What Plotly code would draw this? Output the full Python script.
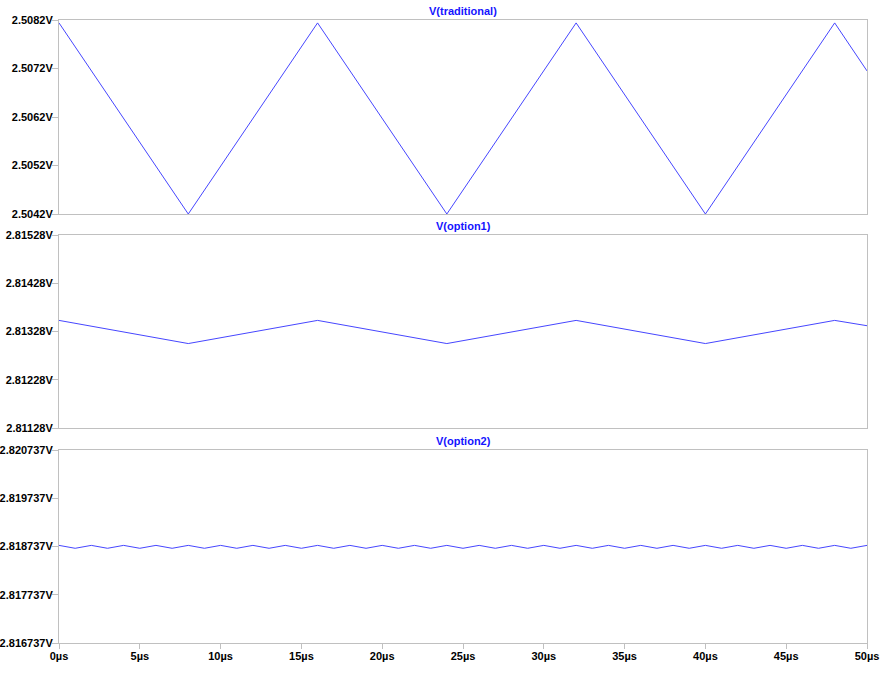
import plotly.graph_objects as go

# ---- data ----
t_tri = [0, 8, 16, 24, 32, 40, 48, 50]                      # µs
v_traditional = [2.50814, 2.50420, 2.50814, 2.50420, 2.50814, 2.50420, 2.50814, 2.50715]
v_option1 = [2.81351, 2.81303, 2.81351, 2.81303, 2.81351, 2.81303, 2.81351, 2.81340]

t_rip = [0, 1, 2, 3, 4, 5, 6, 7, 8, 9, 10, 11, 12, 13, 14, 15, 16, 17, 18, 19, 20,
         21, 22, 23, 24, 25, 26, 27, 28, 29, 30, 31, 32, 33, 34, 35, 36, 37, 38, 39, 40,
         41, 42, 43, 44, 45, 46, 47, 48, 49, 50]
v_option2 = [2.81876, 2.81870, 2.81876, 2.81870, 2.81876, 2.81870, 2.81876, 2.81870,
             2.81876, 2.81870, 2.81876, 2.81870, 2.81876, 2.81870, 2.81876, 2.81870,
             2.81876, 2.81870, 2.81876, 2.81870, 2.81876, 2.81870, 2.81876, 2.81870,
             2.81876, 2.81870, 2.81876, 2.81870, 2.81876, 2.81870, 2.81876, 2.81870,
             2.81876, 2.81870, 2.81876, 2.81870, 2.81876, 2.81870, 2.81876, 2.81870,
             2.81876, 2.81870, 2.81876, 2.81870, 2.81876, 2.81870, 2.81876, 2.81870,
             2.81876, 2.81870, 2.81876]

titles = ["V(traditional)", "V(option1)", "V(option2)"]

y1_ticks = [2.5042, 2.5052, 2.5062, 2.5072, 2.5082]
y1_text = ["2.5042V", "2.5052V", "2.5062V", "2.5072V", "2.5082V"]
y2_ticks = [2.81128, 2.81228, 2.81328, 2.81428, 2.81528]
y2_text = ["2.81128V", "2.81228V", "2.81328V", "2.81428V", "2.81528V"]
y3_ticks = [2.816737, 2.817737, 2.818737, 2.819737, 2.820737]
y3_text = ["2.816737V", "2.817737V", "2.818737V", "2.819737V", "2.820737V"]

x_ticks = [0, 5, 10, 15, 20, 25, 30, 35, 40, 45, 50]
x_text = ["0µs", "5µs", "10µs", "15µs", "20µs", "25µs", "30µs", "35µs", "40µs", "45µs", "50µs"]

# ---- figure ----
W, H = 880, 680
FONT = "Liberation Sans, Arial, sans-serif"
LINE = "rgb(70,70,255)"
BORDER = "#c0c0c0"

xdom = [59 / W, 867 / W]
ydoms = [[1 - 214 / H, 1 - 20 / H], [1 - 428 / H, 1 - 235 / H], [1 - 643 / H, 1 - 450 / H]]

fig = go.Figure()
fig.add_trace(go.Scatter(x=t_tri, y=v_traditional, mode="lines", line=dict(color=LINE, width=1),
                         xaxis="x", yaxis="y"))
fig.add_trace(go.Scatter(x=t_tri, y=v_option1, mode="lines", line=dict(color=LINE, width=1),
                         xaxis="x2", yaxis="y2"))
fig.add_trace(go.Scatter(x=t_rip, y=v_option2, mode="lines", line=dict(color=LINE, width=1),
                         xaxis="x3", yaxis="y3"))

tickfont = dict(family=FONT, size=11, color="black", weight="bold")

def xax(anchor, show):
    return dict(domain=xdom, anchor=anchor, range=[0, 50], showgrid=False, zeroline=False,
                showline=True, linecolor=BORDER, linewidth=1, mirror=True, automargin=False,
                tickvals=x_ticks, ticktext=x_text, showticklabels=show,
                ticks="outside" if show else "", ticklen=5, tickcolor=BORDER,
                ticklabelstandoff=-2, tickfont=tickfont)

def yax(anchor, dom, rng, tv, tt):
    return dict(domain=dom, anchor=anchor, range=rng, showgrid=False, zeroline=False,
                showline=True, linecolor=BORDER, linewidth=1, mirror=True, automargin=False,
                tickvals=tv, ticktext=tt, ticks="outside", ticklen=6, tickcolor=BORDER,
                ticklabelstandoff=-3, tickfont=tickfont)

fig.update_layout(
    width=W, height=H, margin=dict(l=0, r=0, t=0, b=0, autoexpand=False),
    paper_bgcolor="white", plot_bgcolor="white", showlegend=False,
    xaxis=xax("y", False), xaxis2=xax("y2", False), xaxis3=xax("y3", True),
    yaxis=yax("x", ydoms[0], [y1_ticks[0], y1_ticks[-1]], y1_ticks, y1_text),
    yaxis2=yax("x2", ydoms[1], [y2_ticks[0], y2_ticks[-1]], y2_ticks, y2_text),
    yaxis3=yax("x3", ydoms[2], [y3_ticks[0], y3_ticks[-1]], y3_ticks, y3_text),
)

for i, title in enumerate(titles):
    fig.add_annotation(text=title, xref="paper", yref="paper",
                       x=(xdom[0] + xdom[1]) / 2, y=ydoms[i][1], yanchor="bottom",
                       yshift=1, showarrow=False,
                       font=dict(family=FONT, size=11, color="rgb(20,20,255)", weight="bold"))

fig.write_html("out.html")
